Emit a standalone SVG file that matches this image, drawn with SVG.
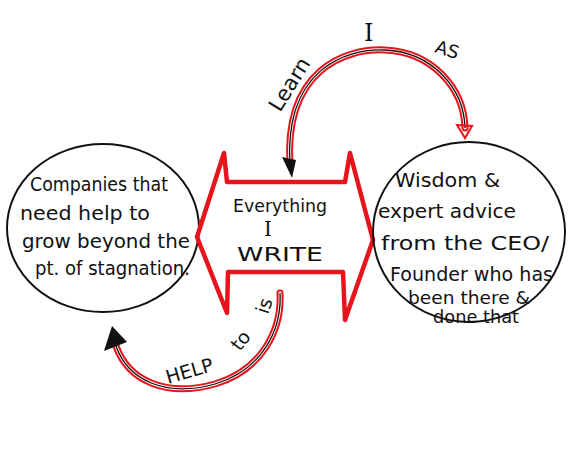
<svg xmlns="http://www.w3.org/2000/svg" width="573" height="460" viewBox="0 0 573 460">
<style>
.hand{font-family:"DejaVu Sans","Liberation Sans",sans-serif;fill:#111;}
.serif{font-family:"DejaVu Serif","Liberation Serif",serif;fill:#111;}
.c{fill:none;stroke:#111;stroke-width:2;}
.red{fill:none;stroke:#e8141b;stroke-width:7;stroke-linecap:round;}
.gap{fill:none;stroke:#fff;stroke-width:3;stroke-linecap:round;}
.blk{fill:none;stroke:#111;stroke-width:1.3;}
</style>
<rect width="573" height="460" fill="#fff"/>
<g id="connectors">
  <g id="top-arc">
    <path class="red" d="M 290 165 C 284 70, 345 48, 385 50 C 432 52, 464 88, 465 128"/>
    <path class="gap" d="M 290 165 C 284 70, 345 48, 385 50 C 432 52, 464 88, 465 128"/>
    <path class="blk" d="M 290 165 C 284 70, 345 48, 385 50 C 432 52, 464 88, 465 128"/>
    <polygon points="282,157 296,160 292,178" fill="#111"/>
    <polygon points="457,125 472,126 465,138" fill="none" stroke="#e8141b" stroke-width="2"/>
    <text class="hand" font-size="21" transform="translate(280,113) rotate(-58)">Learn</text>
    <text class="serif" font-size="24" x="364" y="41">I</text>
    <text class="hand" font-size="18" transform="translate(434,52) rotate(18)">AS</text>
  </g>
  <g id="bottom-arc">
    <path class="red" d="M 280 293 C 282 330, 262 370, 215 384 C 165 398, 128 380, 116 346"/>
    <path class="gap" d="M 280 293 C 282 330, 262 370, 215 384 C 165 398, 128 380, 116 346"/>
    <path class="blk" d="M 280 293 C 282 330, 262 370, 215 384 C 165 398, 128 380, 116 346"/>
    <polygon points="112,326 104,351 127,342" fill="#111"/>
    <text class="hand" font-size="19" transform="translate(168,384) rotate(-16)">HELP</text>
    <text class="hand" font-size="19" transform="translate(240,352) rotate(-52)">to</text>
    <text class="hand" font-size="19" transform="translate(268,315) rotate(-72)">is</text>
  </g>
</g>
<g id="node-left">
  <ellipse class="c" cx="103" cy="228" rx="96" ry="84"/>
  <text class="hand" font-size="19" x="30" y="191" textLength="138" lengthAdjust="spacingAndGlyphs">Companies that</text>
  <text class="hand" font-size="19" x="20" y="220" textLength="130" lengthAdjust="spacingAndGlyphs">need help to</text>
  <text class="hand" font-size="19" x="22" y="248" textLength="168" lengthAdjust="spacingAndGlyphs">grow beyond the</text>
  <text class="hand" font-size="19" x="35" y="275" textLength="155" lengthAdjust="spacingAndGlyphs">pt. of stagnation.</text>
</g>
<g id="node-center">
  <polygon points="197,237 224,153 227,182 345,182 350,153 373,240 345,320 343,272 228,272 227,313" fill="none" stroke="#e8141b" stroke-width="4.5" stroke-linejoin="round"/>
  <text class="hand" font-size="18" x="233" y="212" textLength="94" lengthAdjust="spacingAndGlyphs">Everything</text>
  <text class="serif" font-size="20" x="264" y="236">I</text>
  <text class="hand" font-size="20" x="237" y="261" textLength="86" lengthAdjust="spacingAndGlyphs">WRITE</text>
</g>
<g id="node-right">
  <ellipse class="c" cx="469" cy="232" rx="96" ry="90"/>
  <text class="hand" font-size="19" x="395" y="187" textLength="105" lengthAdjust="spacingAndGlyphs">Wisdom &amp;</text>
  <text class="hand" font-size="19" x="378" y="218" textLength="138" lengthAdjust="spacingAndGlyphs">expert advice</text>
  <text class="hand" font-size="19" x="381" y="250" textLength="168" lengthAdjust="spacingAndGlyphs">from the CEO/</text>
  <text class="hand" font-size="19" x="390" y="281" textLength="163" lengthAdjust="spacingAndGlyphs">Founder who has</text>
  <text class="hand" font-size="18" x="408" y="304" textLength="122" lengthAdjust="spacingAndGlyphs">been there &amp;</text>
  <text class="hand" font-size="17" x="433" y="323" textLength="86" lengthAdjust="spacingAndGlyphs">done that</text>
</g>
</svg>
